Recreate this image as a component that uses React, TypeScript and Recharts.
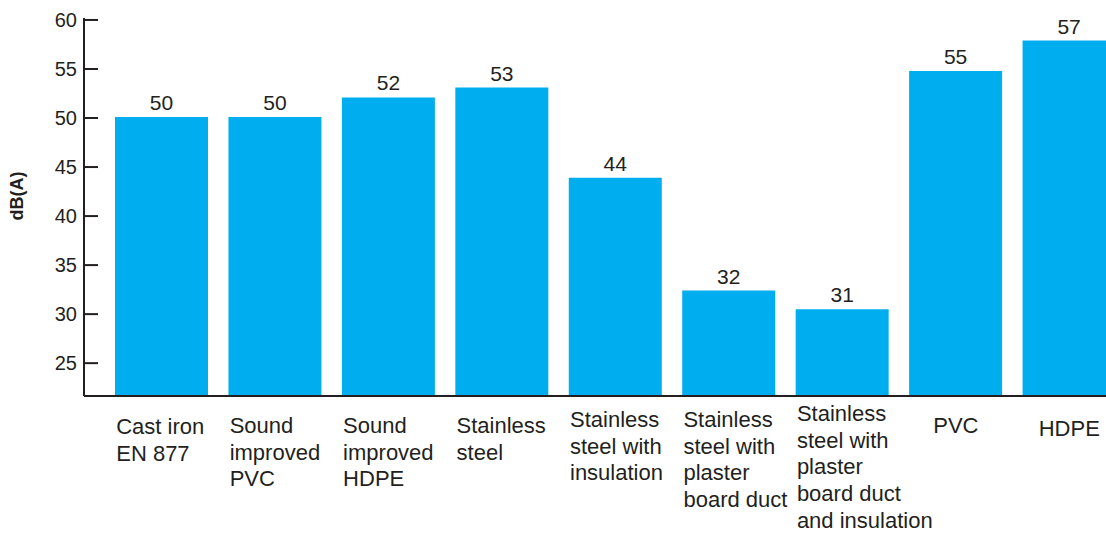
import React from "react";
import { BarChart, Bar, XAxis, YAxis } from "recharts";

// ---- data ----
const categories: string[] = [
  "Cast iron\nEN 877",
  "Sound\nimproved\nPVC",
  "Sound\nimproved\nHDPE",
  "Stainless\nsteel",
  "Stainless\nsteel with\ninsulation",
  "Stainless\nsteel with\nplaster\nboard duct",
  "Stainless\nsteel with\nplaster\nboard duct\nand insulation",
  "PVC",
  "HDPE",
];
const noiseLevels: number[] = [50.1, 50.1, 52.1, 53.1, 43.9, 32.4, 30.5, 54.8, 57.9];
const valueLabels: string[] = ["50", "50", "52", "53", "44", "32", "31", "55", "57"];
const yTicks: number[] = [25, 30, 35, 40, 45, 50, 55, 60];
const yAxisTitle = "dB(A)";

// ---- styles ----
const FONT = "'Liberation Sans', Arial, Helvetica, sans-serif";
const TEXT = "#231F20";
const BAR = "#00AEEF";
const BAR_SIZE = 93;
// per-label layout (first-line baseline offset from the axis, alignment)
const LABEL_DY = [38, 37, 37, 37, 31, 31, 25, 37, 40];
const LABEL_CENTER = [false, false, false, false, false, false, false, true, true];
const LINE_H = 26.7;

const data = categories.map((c, i) => ({ name: c, value: noiseLevels[i] }));

const XTick = (props: any) => {
  const { x, y, payload, index } = props;
  const i = typeof index === "number" ? index : categories.indexOf(payload.value);
  const lines = String(payload.value).split("\n");
  const centered = LABEL_CENTER[i];
  const tx = centered ? x : x - BAR_SIZE / 2 + 1;
  return (
    <text
      x={tx}
      y={y + LABEL_DY[i]}
      fill={TEXT}
      fontFamily={FONT}
      fontSize={22}
      textAnchor={centered ? "middle" : "start"}
    >
      {lines.map((l, k) => (
        <tspan key={k} x={tx} dy={k === 0 ? 0 : LINE_H}>
          {l}
        </tspan>
      ))}
    </text>
  );
};

const YTick = (props: any) => {
  const { x, y, payload } = props;
  return (
    <g>
      <line x1={x} y1={y} x2={x + 14} y2={y} stroke={TEXT} strokeWidth={2} />
      <text
        x={x - 7}
        y={y + 7}
        fill={TEXT}
        fontFamily={FONT}
        fontSize={20}
        textAnchor="end"
      >
        {payload.value}
      </text>
    </g>
  );
};

const ValueLabel = (props: any) => {
  const { x, y, width, index } = props;
  return (
    <text
      x={x + width / 2}
      y={y - 7}
      fill={TEXT}
      fontFamily={FONT}
      fontSize={21}
      textAnchor="middle"
    >
      {valueLabels[index]}
    </text>
  );
};

const YTitle = () => (
  <text
    x={0}
    y={0}
    transform="translate(23, 196) rotate(-90)"
    fill={TEXT}
    fontFamily={FONT}
    fontSize={18}
    fontWeight="bold"
    textAnchor="middle"
  >
    {yAxisTitle}
  </text>
);

export default function App() {
  return (
    <div
      style={{
        position: "absolute",
        left: 0,
        top: 0,
        width: 1106,
        height: 533,
        overflow: "hidden",
        background: "#fff",
      }}
    >
      <BarChart
        width={1126}
        height={533}
        data={data}
        margin={{ top: 18, right: 0, left: 0, bottom: 0 }}
        barSize={BAR_SIZE}
      >
        <XAxis
          dataKey="name"
          height={137}
          interval={0}
          padding={{ left: 21, right: 0 }}
          axisLine={{ stroke: TEXT, strokeWidth: 2 }}
          tickLine={false}
          tickSize={0}
          tickMargin={0}
          tick={<XTick />}
        />
        <YAxis
          width={84}
          domain={[21.65, 60.2]}
          ticks={yTicks}
          allowDataOverflow
          axisLine={{ stroke: TEXT, strokeWidth: 2 }}
          tickLine={false}
          tickSize={0}
          tickMargin={0}
          tick={<YTick />}
          label={<YTitle />}
        />
        <Bar
          dataKey="value"
          fill={BAR}
          isAnimationActive={false}
          label={<ValueLabel />}
        />
      </BarChart>
    </div>
  );
}
